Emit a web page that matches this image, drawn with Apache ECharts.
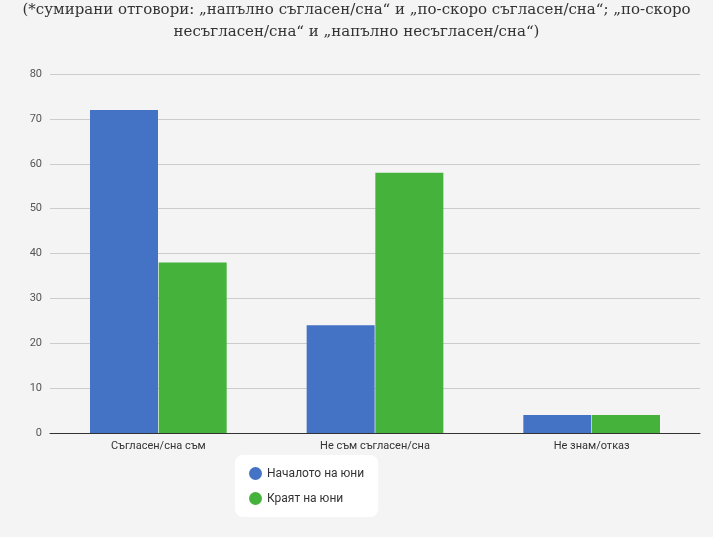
<!DOCTYPE html>
<html><head><meta charset="utf-8">
<script src="https://cdn.jsdelivr.net/npm/echarts@6/dist/echarts.min.js"></script>
<style>html,body{margin:0;background:#f4f4f4}#main{width:713px;height:537px}</style>
</head><body><div id="main"></div>
<script>
var categories = ['Съгласен/сна съм', 'Не съм съгласен/сна', 'Не знам/отказ'];
var seriesNames = ['Началото на юни', 'Краят на юни'];
var startJune = [72, 24, 4];
var endJune = [38, 58, 4];
var colors = ['#4472c4', '#45b23c'];

var chart = echarts.init(document.getElementById('main'));
chart.setOption({
    backgroundColor: '#f4f4f4',
    color: colors,
    title: {
        text: '(*сумирани отговори: „напълно съгласен/сна“ и „по-скоро съгласен/сна“; „по-скоро\nнесъгласен/сна“ и „напълно несъгласен/сна“)',
        left: 'center',
        top: -6,
        textStyle: { fontFamily: 'DejaVu Serif', fontSize: 15, fontWeight: 'normal', color: '#333', lineHeight: 22 }
    },
    grid: { left: 50, right: 13, top: 74, bottom: 104 },
    legend: {
        orient: 'vertical',
        left: 235, top: 455, width: 248, height: 78,
        padding: [12, 14],
        itemGap: 12,
        icon: 'circle', itemWidth: 13, itemHeight: 13,
        backgroundColor: '#fff', borderRadius: 8,
        textStyle: { fontFamily: 'Roboto', fontSize: 12, color: '#333' },
        data: seriesNames
    },
    xAxis: {
        type: 'category', data: categories,
        axisLine: { lineStyle: { color: '#333' } },
        axisTick: { show: false },
        axisLabel: { fontFamily: 'Roboto', fontSize: 11, color: '#333' }
    },
    yAxis: {
        type: 'value', min: 0, max: 80, interval: 10,
        axisLabel: { fontFamily: 'Roboto', fontSize: 11, color: '#555' },
        splitLine: { lineStyle: { color: '#ccc' } }
    },
    series: [
        { name: seriesNames[0], type: 'bar', data: startJune, barWidth: 68, barGap: '1%' },
        { name: seriesNames[1], type: 'bar', data: endJune, barWidth: 68 }
    ]
});
window.addEventListener('resize', function () { chart.resize(); });
</script></body></html>
